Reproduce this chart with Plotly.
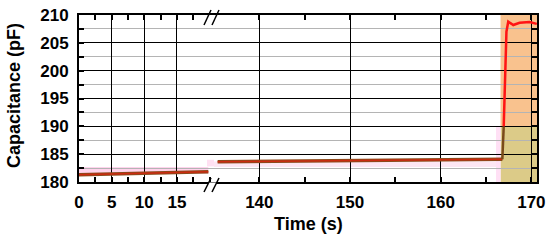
import plotly.graph_objects as go

# ---- data ----
t_left = [0, 5, 10, 15, 19.8]
c_left = [181.3, 181.45, 181.6, 181.72, 181.85]

t_right = [135.4, 140, 150, 160, 166.8]
c_right = [183.65, 183.7, 183.85, 184.0, 184.1]

t_rise_low = [166.8, 166.95]
c_rise_low = [184.1, 190.0]

t_rise = [166.95, 167.1, 167.25, 167.45, 168.0, 168.7, 169.8, 170.6]
c_rise = [190.0, 200.0, 207.0, 208.8, 208.2, 208.6, 208.75, 208.4]

x_left_ticks = [0, 5, 10, 15]
x_right_ticks = [140, 150, 160, 170]
y_ticks = [180, 185, 190, 195, 200, 205, 210]

# ---- layout geometry (pixels) ----
W, H = 550, 242
L, R, T, B = 79, 13, 15, 60
PW, PH = W - L - R, H - T - B
BX = 214  # break position
split = (BX - L) / PW


def px(x):
    return (x - L) / PW


def py(y):
    return (H - B - y) / PH


fig = go.Figure()

brown = "#8a4a1c"
red_c = "#cc2a10"

fig.add_trace(go.Scatter(x=t_left, y=c_left, mode="lines", xaxis="x", yaxis="y",
                         line=dict(color=brown, width=3.5), showlegend=False))
fig.add_trace(go.Scatter(x=t_left, y=c_left, mode="lines", xaxis="x", yaxis="y",
                         line=dict(color=red_c, width=1.5), showlegend=False))
fig.add_trace(go.Scatter(x=t_right, y=c_right, mode="lines", xaxis="x2", yaxis="y2",
                         line=dict(color=brown, width=3.5), showlegend=False))
fig.add_trace(go.Scatter(x=t_right, y=c_right, mode="lines", xaxis="x2", yaxis="y2",
                         line=dict(color=red_c, width=1.5), showlegend=False))
fig.add_trace(go.Scatter(x=t_rise_low, y=c_rise_low, mode="lines", xaxis="x2", yaxis="y2",
                         line=dict(color="#7a4a1a", width=2.5), showlegend=False))
fig.add_trace(go.Scatter(x=t_rise, y=c_rise, mode="lines", xaxis="x2", yaxis="y2",
                         line=dict(color="#ff1414", width=2.5), showlegend=False))

FONT = "Liberation Sans, Arial, sans-serif"
tickfont = dict(family=FONT, size=17, color="black", weight="bold")

common_x = dict(
    showline=True, linecolor="black", linewidth=2, mirror="allticks",
    ticks="inside", ticklen=5, tickcolor="black", tickwidth=1.5,
    showgrid=True, gridcolor="black", gridwidth=1.3,
    zeroline=False, tickfont=tickfont, ticklabelstandoff=4, automargin=False,
)
common_y = dict(
    range=[180, 210], tickvals=y_ticks, showline=True, linecolor="black", linewidth=2,
    ticks="inside", ticklen=5, tickcolor="black", tickwidth=1.5,
    showgrid=True, gridcolor="black", gridwidth=1.3, zeroline=False, automargin=False,
    minor=dict(dtick=2.5, tick0=180, ticks="inside", ticklen=5, tickcolor="black",
               showgrid=True, gridcolor="#b4b4b4", gridwidth=1),
)

fig.update_layout(
    width=W, height=H,
    margin=dict(l=L, r=R, t=T, b=B, autoexpand=False),
    paper_bgcolor="white", plot_bgcolor="white",
    font=dict(family=FONT, color="black"),
    xaxis=dict(domain=[0, split], range=[0, 20.67], tickvals=x_left_ticks,
               minor=dict(dtick=2.5, tick0=0, ticks="inside", ticklen=5, tickcolor="black", showgrid=False),
               anchor="y", **common_x),
    xaxis2=dict(domain=[split, 1], range=[135.0, 170.62], tickvals=x_right_ticks,
                minor=dict(dtick=5, tick0=135, ticks="inside", ticklen=5, tickcolor="black", showgrid=False),
                anchor="y2", **common_x),
    yaxis=dict(anchor="x", side="left", tickfont=tickfont, ticklabelstandoff=5, **common_y),
    yaxis2=dict(anchor="x2", side="right", matches="y", showticklabels=False, **common_y),
)

shapes = []
# highlight bands (below grid)
shapes.append(dict(type="rect", xref="x", yref="y", x0=0, x1=19.8, y0=181.5, y1=182.7,
                   fillcolor="#ffd3ec", line_width=0, layer="below"))
shapes.append(dict(type="rect", xref="x", yref="y", x0=19.6, x1=20.67, y0=182.8, y1=184.0,
                   fillcolor="#ffe0f2", line_width=0, layer="below"))
shapes.append(dict(type="rect", xref="x2", yref="y2", x0=135.0, x1=166.6, y0=182.7, y1=183.7,
                   fillcolor="#fde6f3", line_width=0, layer="below"))
shapes.append(dict(type="rect", xref="x2", yref="y2", x0=166.6, x1=170.62, y0=190, y1=210,
                   fillcolor="#f9c28e", line_width=0, layer="below"))
shapes.append(dict(type="rect", xref="x2", yref="y2", x0=166.6, x1=170.62, y0=180, y1=190,
                   fillcolor="#dccb88", line_width=0, layer="below"))
shapes.append(dict(type="rect", xref="x2", yref="y2", x0=166.1, x1=166.6, y0=180, y1=190,
                   fillcolor="#ffe0f5", line_width=0, layer="below"))

# axis break marks
for (ytop, ybot) in [(10, 25), (178, 192)]:
    ymid = (ytop + ybot) / 2
    shapes.append(dict(type="rect", xref="paper", yref="paper",
                       x0=px(208), x1=px(216), y0=py(ymid + 2.5), y1=py(ymid - 2.5),
                       fillcolor="white", line_width=0, layer="above"))
    shapes.append(dict(type="line", xref="paper", yref="paper",
                       x0=px(204), y0=py(ybot), x1=px(211), y1=py(ytop),
                       line=dict(color="black", width=1.5), layer="above"))
    shapes.append(dict(type="line", xref="paper", yref="paper",
                       x0=px(212), y0=py(ybot), x1=px(219), y1=py(ytop),
                       line=dict(color="black", width=1.5), layer="above"))
fig.update_layout(shapes=shapes)

fig.add_annotation(text="<b>Time (s)</b>", xref="paper", yref="paper",
                   x=0.5, y=py(224), xanchor="center", yanchor="middle", showarrow=False,
                   font=dict(family=FONT, size=18, color="black"))
fig.add_annotation(text="<b>Capacitance (pF)</b>", xref="paper", yref="paper",
                   x=px(14), y=py(96), xanchor="center", yanchor="middle", showarrow=False,
                   textangle=-90,
                   font=dict(family=FONT, size=18, color="black"))

fig.write_html("out.html", config={"displayModeBar": False},
               post_script="document.body.style.margin='0';")
